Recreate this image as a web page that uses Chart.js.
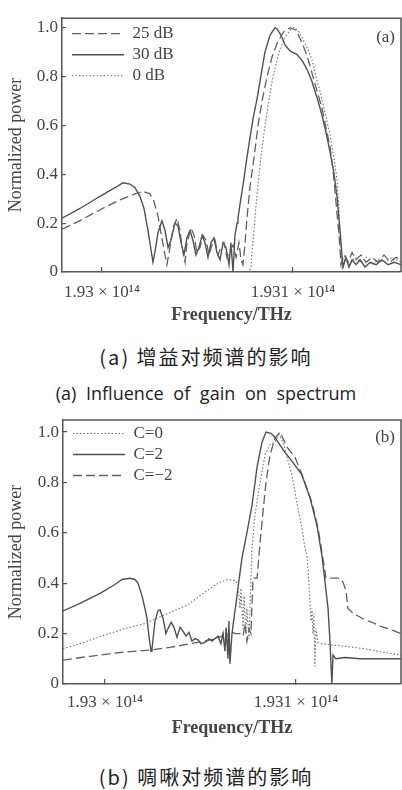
<!DOCTYPE html>
<html>
<head>
<meta charset="utf-8">
<script src="https://cdn.jsdelivr.net/npm/chart.js@4.4.1/dist/chart.umd.min.js"></script>
<style>
  body { margin: 0; width: 402px; height: 790px; background: #fff; position: relative; overflow: hidden; }
  .panel { position: absolute; left: 0; width: 402px; }
  .cap { position: absolute; left: 5px; width: 402px; text-align: center; color: #222;
         font-family: "Open Sans", "Noto Sans CJK SC", sans-serif; white-space: nowrap; }
  .zh { font-size: 20px; line-height: 24px; letter-spacing: 2px; font-family: "Noto Sans CJK SC", sans-serif; }
  .en { font-size: 18px; line-height: 22px; word-spacing: 5px; }
</style>
</head>
<body>
<div class="panel" style="top:0;height:330px"><canvas id="chartA"></canvas></div>
<div class="cap zh" style="top:345px">(a) 增益对频谱的影响</div>
<div class="cap en" style="top:382px">(a) Influence of gain on spectrum</div>
<div class="panel" style="top:400px;height:340px"><canvas id="chartB"></canvas></div>
<div class="cap zh" style="top:765px">(b) 啁啾对频谱的影响</div>

<script>
// 频率单位 THz，功率为归一化值
const yTicks = [0, 0.2, 0.4, 0.6, 0.8, 1.0];
const xTicks = [193.0, 193.1];
const xTickLabels = ['1.93 × 10¹⁴', '1.931 × 10¹⁴'];

// (a) 增益对频谱的影响
const labelsA = ['25 dB', '30 dB', '0 dB'];
const freq25 = [192.9791, 192.9885, 192.9990, 193.0094, 193.0173, 193.0215, 193.0251, 193.0272, 193.0293, 193.0309,
  193.0325, 193.0340, 193.0356, 193.0372, 193.0393, 193.0408, 193.0424, 193.0435, 193.0445, 193.0466,
  193.0482, 193.0497, 193.0513, 193.0529, 193.0545, 193.0560, 193.0576, 193.0592, 193.0607, 193.0623,
  193.0639, 193.0654, 193.0670, 193.0686, 193.0702, 193.0717, 193.0728, 193.0738, 193.0749, 193.0759,
  193.0775, 193.0796, 193.0817, 193.0838, 193.0864, 193.0890, 193.0921, 193.0953, 193.0984, 193.1016,
  193.1052, 193.1079, 193.1099, 193.1126, 193.1152, 193.1173, 193.1194, 193.1209, 193.1220, 193.1230,
  193.1241, 193.1251, 193.1267, 193.1288, 193.1309, 193.1330, 193.1356, 193.1382, 193.1414, 193.1445,
  193.1476, 193.1508, 193.1539, 193.1565];
const power25 = [0.175, 0.21, 0.255, 0.295, 0.32, 0.33, 0.32, 0.29, 0.23, 0.16,
  0.09, 0.03, 0.1, 0.18, 0.22, 0.17, 0.08, 0.04, 0.12, 0.18,
  0.15, 0.08, 0.1, 0.15, 0.13, 0.07, 0.11, 0.13, 0.07, 0.1,
  0.12, 0.06, 0.09, 0.11, 0.06, 0.12, 0.05, 0.03, 0.12, 0.22,
  0.35, 0.47, 0.6, 0.7, 0.8, 0.88, 0.945, 0.985, 1.0, 0.99,
  0.93, 0.87, 0.815, 0.74, 0.67, 0.59, 0.51, 0.42, 0.33, 0.24,
  0.15, 0.03, 0.07, 0.04, 0.08, 0.05, 0.07, 0.04, 0.06, 0.04,
  0.07, 0.04, 0.06, 0.05];
const freq30 = [192.9791, 192.9885, 192.9990, 193.0068, 193.0110, 193.0147, 193.0173, 193.0199, 193.0220, 193.0241,
  193.0257, 193.0267, 193.0277, 193.0293, 193.0314, 193.0330, 193.0346, 193.0361, 193.0382, 193.0398,
  193.0414, 193.0429, 193.0445, 193.0461, 193.0476, 193.0492, 193.0508, 193.0524, 193.0539, 193.0555,
  193.0571, 193.0586, 193.0602, 193.0618, 193.0634, 193.0649, 193.0665, 193.0675, 193.0686, 193.0696,
  193.0707, 193.0712, 193.0723, 193.0743, 193.0759, 193.0775, 193.0791, 193.0812, 193.0827, 193.0853,
  193.0880, 193.0906, 193.0916, 193.0937, 193.0958, 193.0984, 193.1021, 193.1052, 193.1079, 193.1099,
  193.1131, 193.1152, 193.1173, 193.1194, 193.1215, 193.1230, 193.1246, 193.1257, 193.1262, 193.1277,
  193.1293, 193.1309, 193.1330, 193.1351, 193.1377, 193.1403, 193.1435, 193.1466, 193.1497, 193.1529,
  193.1565];
const power30 = [0.22, 0.26, 0.31, 0.345, 0.365, 0.36, 0.345, 0.31, 0.26, 0.17,
  0.09, 0.04, 0.08, 0.16, 0.21, 0.17, 0.1, 0.13, 0.2, 0.19,
  0.12, 0.07, 0.14, 0.17, 0.13, 0.07, 0.1, 0.15, 0.12, 0.06,
  0.12, 0.14, 0.08, 0.05, 0.12, 0.1, 0.03, 0.12, 0, 0.15,
  0.2, 0.22, 0.28, 0.38, 0.47, 0.55, 0.63, 0.71, 0.78, 0.9,
  0.97, 1.0, 0.995, 0.97, 0.93, 0.905, 0.89, 0.86, 0.82, 0.78,
  0.7, 0.64, 0.57, 0.49, 0.4, 0.31, 0.17, 0.06, 0.02, 0.06,
  0.02, 0.05, 0.03, 0.05, 0.02, 0.04, 0.03, 0.05, 0.03, 0.04,
  0.03];
const freq0 = [192.9791, 193.0770, 193.0780, 193.0785, 193.0796, 193.0806, 193.0817, 193.0832, 193.0848, 193.0869,
  193.0895, 193.0927, 193.0958, 193.0984, 193.1005, 193.1026, 193.1047, 193.1073, 193.1099, 193.1120,
  193.1141, 193.1168, 193.1194, 193.1215, 193.1230, 193.1241, 193.1246, 193.1257, 193.1272, 193.1298,
  193.1325, 193.1351, 193.1382, 193.1414, 193.1445, 193.1482, 193.1518, 193.1565];
const power0 = [0, 0, 0.02, 0.08, 0.17, 0.27, 0.36, 0.47, 0.57, 0.68,
  0.8, 0.9, 0.96, 0.99, 1.0, 0.99, 0.96, 0.92, 0.87, 0.8,
  0.74, 0.65, 0.56, 0.46, 0.38, 0.25, 0.15, 0.02, 0.05, 0.03,
  0.06, 0.04, 0.06, 0.03, 0.05, 0.04, 0.06, 0.04];

// (b) 啁啾对频谱的影响
const labelsB = ['C=0', 'C=2', 'C=−2'];
const freqC0 = [192.9780, 192.9869, 193.0000, 193.0105, 193.0209, 193.0314, 193.0435, 193.0524, 193.0592, 193.0644,
  193.0681, 193.0696, 193.0707, 193.0712, 193.0723, 193.0728, 193.0738, 193.0743, 193.0754, 193.0759,
  193.0770, 193.0785, 193.0812, 193.0838, 193.0864, 193.0890, 193.0911, 193.0932, 193.0953, 193.0979,
  193.1005, 193.1031, 193.1047, 193.1058, 193.1068, 193.1073, 193.1079, 193.1084, 193.1089, 193.1094,
  193.1099, 193.1105, 193.1115, 193.1136, 193.1188, 193.1257, 193.1361, 193.1466, 193.1550];
const powerC0 = [0.14, 0.16, 0.195, 0.22, 0.24, 0.275, 0.315, 0.365, 0.4, 0.415,
  0.41, 0.4, 0.3, 0.38, 0.22, 0.35, 0.2, 0.3, 0.18, 0.3,
  0.54, 0.67, 0.8, 0.91, 0.95, 0.96, 0.99, 0.96, 0.9, 0.83,
  0.72, 0.62, 0.54, 0.51, 0.4, 0.33, 0.25, 0.3, 0.2, 0.28,
  0.07, 0.22, 0.165, 0.16, 0.155, 0.15, 0.14, 0.125, 0.115];
const freqC2 = [192.9780, 192.9869, 192.9974, 193.0052, 193.0089, 193.0131, 193.0157, 193.0173, 193.0194, 193.0209,
  193.0220, 193.0230, 193.0241, 193.0246, 193.0262, 193.0277, 193.0288, 193.0304, 193.0319, 193.0330,
  193.0346, 193.0361, 193.0377, 193.0393, 193.0408, 193.0424, 193.0440, 193.0455, 193.0471, 193.0487,
  193.0503, 193.0524, 193.0545, 193.0560, 193.0576, 193.0592, 193.0607, 193.0618, 193.0628, 193.0634,
  193.0644, 193.0649, 193.0654, 193.0665, 193.0675, 193.0686, 193.0696, 193.0717, 193.0743, 193.0770,
  193.0796, 193.0822, 193.0843, 193.0869, 193.0890, 193.0906, 193.0942, 193.0984, 193.1031, 193.1073,
  193.1110, 193.1136, 193.1152, 193.1168, 193.1178, 193.1188, 193.1194, 193.1209, 193.1257, 193.1335,
  193.1440, 193.1550];
const powerC2 = [0.29, 0.32, 0.36, 0.395, 0.415, 0.42, 0.415, 0.4, 0.35, 0.3,
  0.26, 0.19, 0.13, 0.14, 0.25, 0.29, 0.295, 0.26, 0.2, 0.22,
  0.245, 0.225, 0.185, 0.225, 0.21, 0.19, 0.205, 0.17, 0.18, 0.175,
  0.16, 0.165, 0.18, 0.17, 0.18, 0.19, 0.16, 0.2, 0.13, 0.22,
  0.1, 0.25, 0.08, 0.2, 0.26, 0.32, 0.38, 0.5, 0.6, 0.71,
  0.86, 0.96, 1.0, 0.995, 0.98, 0.96, 0.92, 0.88, 0.83, 0.74,
  0.63, 0.51, 0.405, 0.3, 0.17, 0, 0.115, 0.1, 0.105, 0.1,
  0.1, 0.1];
const freqCm2 = [192.9780, 192.9921, 193.0079, 193.0236, 193.0340, 193.0445, 193.0524, 193.0576, 193.0613, 193.0634,
  193.0644, 193.0654, 193.0681, 193.0707, 193.0723, 193.0733, 193.0743, 193.0754, 193.0764, 193.0775,
  193.0796, 193.0812, 193.0827, 193.0843, 193.0864, 193.0890, 193.0916, 193.0932, 193.0953, 193.0995,
  193.1037, 193.1084, 193.1115, 193.1141, 193.1157, 193.1178, 193.1204, 193.1230, 193.1246, 193.1262,
  193.1272, 193.1293, 193.1325, 193.1361, 193.1398, 193.1440, 193.1482, 193.1518, 193.1550];
const powerCm2 = [0.095, 0.11, 0.125, 0.135, 0.145, 0.16, 0.17, 0.18, 0.19, 0.22,
  0.17, 0.21, 0.2, 0.2, 0.19, 0.24, 0.17, 0.22, 0.2, 0.42,
  0.42, 0.56, 0.68, 0.8, 0.91, 0.975, 1.0, 0.975, 0.94, 0.9,
  0.82, 0.72, 0.62, 0.5, 0.42, 0.42, 0.42, 0.42, 0.405, 0.37,
  0.3, 0.285, 0.27, 0.255, 0.245, 0.23, 0.22, 0.21, 0.2];

const INK = '#444';
const SERIF = '"Liberation Serif", "DejaVu Serif", serif';
const pts = (xs, ys) => xs.map((x, i) => ({ x, y: ys[i] }));

const solid = { borderColor: '#505050', borderWidth: 1.4, borderDash: [] };
const dashed = { borderColor: '#606060', borderWidth: 1.3, borderDash: [9, 4] };
const dotted = { borderColor: '#707070', borderWidth: 1.1, borderDash: [1.5, 2] };

function series(label, xs, ys, style) {
    return Object.assign({
        label, data: pts(xs, ys), pointRadius: 0, pointStyle: 'line',
        tension: 0, fill: false
    }, style);
}

// 图例放进绘图区左上角，外框 + 子图标号
const framePlugin = {
    id: 'frame',
    afterLayout(chart, args, opts) {
        const lg = chart.legend;
        if (!lg) return;
        const h = lg.height;
        lg.left = chart.chartArea.left + 6;
        lg.top = chart.chartArea.top + opts.legendDy;
        lg.bottom = lg.top + h;
    },
    afterDraw(chart, args, opts) {
        const { ctx, chartArea: a } = chart;
        ctx.save();
        ctx.strokeStyle = '#555';
        ctx.lineWidth = 1.5;
        ctx.beginPath();
        ctx.moveTo(a.left, a.top);
        ctx.lineTo(a.right, a.top);
        ctx.lineTo(a.right, a.bottom);
        ctx.stroke();
        ctx.fillStyle = INK;
        ctx.font = '17px ' + SERIF;
        ctx.textAlign = 'right';
        ctx.textBaseline = 'middle';
        ctx.fillText(opts.tag, a.right - 6, a.top + opts.tagDy);
        ctx.restore();
    }
};

function legendLabels(chart) {
    const items = Chart.defaults.plugins.legend.labels.generateLabels(chart);
    return items.map((item, i) => {
        const ds = chart.data.datasets[i];
        return Object.assign(item, {
            lineDash: ds.borderDash, lineWidth: ds.borderWidth,
            strokeStyle: ds.borderColor, pointStyle: 'line'
        });
    });
}

function makeChart(id, datasets, cfg) {
    return new Chart(document.getElementById(id), {
        type: 'line',
        data: { datasets },
        plugins: [framePlugin],
        options: {
            responsive: true,
            maintainAspectRatio: false,
            animation: false,
            layout: { padding: { top: cfg.padTop, right: 1, left: 0, bottom: 0 } },
            scales: {
                x: {
                    type: 'linear', min: cfg.xMin, max: cfg.xMax,
                    afterFit: s => { s.height = cfg.xHeight; },
                    afterBuildTicks: s => { s.ticks = xTicks.map(v => ({ value: v })); },
                    grid: { drawOnChartArea: false, tickLength: -5, color: '#555', lineWidth: 1.2 },
                    border: { color: '#555', width: 1.5 },
                    ticks: {
                        color: INK, font: { family: SERIF, size: 17 }, padding: cfg.xTickPad,
                        maxRotation: 0, autoSkip: false,
                        callback: v => xTickLabels[xTicks.indexOf(v)]
                    },
                    title: {
                        display: true, text: 'Frequency/THz', color: INK,
                        font: { family: SERIF, size: 18, weight: 'bold' },
                        padding: { top: 0, bottom: cfg.xTitlePad }
                    }
                },
                y: {
                    min: 0, max: cfg.yMax,
                    afterFit: s => { s.width = cfg.yWidth; },
                    afterBuildTicks: s => { s.ticks = yTicks.map(v => ({ value: v })); },
                    grid: { drawOnChartArea: false, tickLength: -4, color: '#555', lineWidth: 1.2 },
                    border: { color: '#555', width: 1.5 },
                    ticks: {
                        color: INK, font: { family: SERIF, size: 17 }, padding: 8,
                        callback: v => (v === 0 ? '0' : v.toFixed(1))
                    },
                    title: {
                        display: true, text: 'Normalized power', color: INK,
                        font: { family: SERIF, size: 18 },
                        padding: { top: 5, bottom: 0 }
                    }
                }
            },
            plugins: {
                frame: { tag: cfg.tag, tagDy: cfg.tagDy, legendDy: cfg.legendDy },
                tooltip: { enabled: false },
                legend: {
                    position: 'chartArea', align: 'start',
                    labels: {
                        usePointStyle: true, pointStyleWidth: 52, padding: 4,
                        color: INK, font: { family: SERIF, size: 17 },
                        generateLabels: legendLabels
                    }
                }
            }
        }
    });
}

makeChart('chartA', [
    series(labelsA[0], freq25, power25, dashed),
    series(labelsA[1], freq30, power30, solid),
    series(labelsA[2], freq0, power0, dotted)
], {
    xMin: 192.9791, xMax: 193.1565, yMax: 1.039, padTop: 7,
    xHeight: 58, yWidth: 62, xTickPad: 15, xTitlePad: 4, tag: '(a)', tagDy: 19, legendDy: 3
});

makeChart('chartB', [
    series(labelsB[0], freqC0, powerC0, dotted),
    series(labelsB[1], freqC2, powerC2, solid),
    series(labelsB[2], freqCm2, powerCm2, dashed)
], {
    xMin: 192.9780, xMax: 193.1550, yMax: 1.048, padTop: 20,
    xHeight: 56, yWidth: 63, xTickPad: 13, xTitlePad: 1, tag: '(b)', tagDy: 18, legendDy: 1
});
</script>
</body>
</html>
